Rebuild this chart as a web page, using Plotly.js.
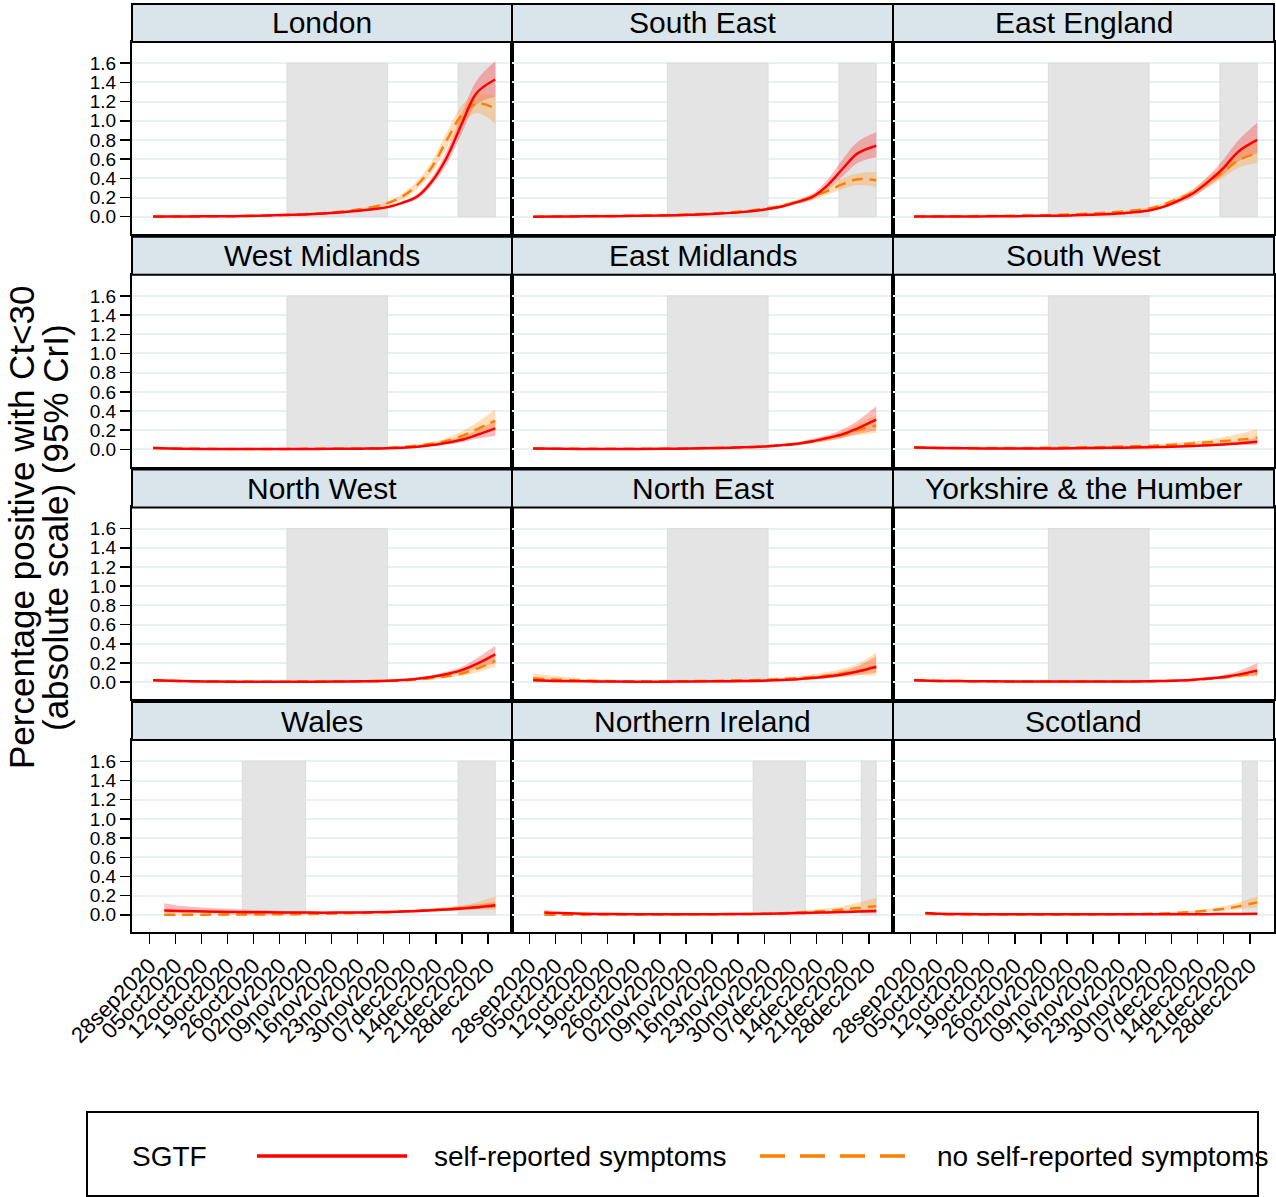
<!DOCTYPE html>
<html>
<head>
<meta charset="utf-8">
<script src="https://cdn.plot.ly/plotly-3.0.1.min.js"></script>
<style>html,body{margin:0;padding:0;background:#fff;}#chart{width:1276px;height:1197px;}</style>
</head>
<body>
<div id="chart"></div>
<script>
// ---------------- DATA ----------------
const regions = ['London','South East','East England','West Midlands','East Midlands','South West','North West','North East','Yorkshire & the Humber','Wales','Northern Ireland','Scotland'];

const datesEngland = ['2020-09-29','2020-10-06','2020-10-13','2020-10-20','2020-10-27','2020-11-03','2020-11-10','2020-11-17','2020-11-24','2020-12-01','2020-12-05','2020-12-09','2020-12-13','2020-12-17','2020-12-21','2020-12-25','2020-12-30'];
const datesNations = ['2020-10-02','2020-10-06','2020-10-13','2020-10-20','2020-10-27','2020-11-03','2020-11-10','2020-11-17','2020-11-24','2020-12-01','2020-12-05','2020-12-09','2020-12-13','2020-12-17','2020-12-21','2020-12-25','2020-12-30'];

const xTickVals = ['2020-09-28','2020-10-05','2020-10-12','2020-10-19','2020-10-26','2020-11-02','2020-11-09','2020-11-16','2020-11-23','2020-11-30','2020-12-07','2020-12-14','2020-12-21','2020-12-28'];
const xTickText = ['28sep2020','05oct2020','12oct2020','19oct2020','26oct2020','02nov2020','09nov2020','16nov2020','23nov2020','30nov2020','07dec2020','14dec2020','21dec2020','28dec2020'];
const yTickVals = [0,0.2,0.4,0.6,0.8,1.0,1.2,1.4,1.6];
const yTickText = ['0.0','0.2','0.4','0.6','0.8','1.0','1.2','1.4','1.6'];

// self-reported symptoms (sym) and no self-reported symptoms (asym), with 95% CrI
const London_sym    = [0.002,0.003,0.004,0.006,0.011,0.018,0.027,0.042,0.065,0.10,0.145,0.21,0.37,0.62,0.97,1.29,1.43];
const London_sym_lo = [0.0,0.001,0.002,0.004,0.008,0.014,0.022,0.036,0.057,0.09,0.13,0.185,0.33,0.55,0.87,1.17,1.25];
const London_sym_hi = [0.006,0.006,0.007,0.009,0.014,0.022,0.032,0.048,0.074,0.11,0.16,0.235,0.41,0.69,1.07,1.42,1.62];
const London_asym    = [0.0,0.002,0.003,0.005,0.01,0.017,0.028,0.048,0.08,0.14,0.21,0.33,0.52,0.80,1.06,1.18,1.13];
const London_asym_lo = [0.0,0.0,0.001,0.003,0.007,0.013,0.022,0.04,0.068,0.12,0.18,0.29,0.46,0.72,0.96,1.08,0.97];
const London_asym_hi = [0.004,0.005,0.006,0.008,0.013,0.021,0.034,0.056,0.092,0.16,0.24,0.37,0.58,0.88,1.16,1.28,1.25];

const SouthEast_sym    = [0.0,0.002,0.004,0.006,0.009,0.013,0.02,0.03,0.048,0.08,0.11,0.155,0.21,0.33,0.50,0.66,0.74];
const SouthEast_sym_lo = [0.0,0.0,0.002,0.004,0.007,0.01,0.016,0.025,0.041,0.07,0.097,0.135,0.18,0.28,0.42,0.56,0.62];
const SouthEast_sym_hi = [0.008,0.006,0.007,0.009,0.012,0.017,0.025,0.036,0.056,0.09,0.125,0.175,0.24,0.39,0.60,0.78,0.88];
const SouthEast_asym    = [0.0,0.003,0.005,0.008,0.011,0.016,0.024,0.036,0.056,0.09,0.12,0.16,0.21,0.27,0.34,0.39,0.38];
const SouthEast_asym_lo = [0.0,0.0,0.002,0.005,0.008,0.012,0.019,0.03,0.048,0.078,0.105,0.14,0.18,0.23,0.29,0.33,0.31];
const SouthEast_asym_hi = [0.008,0.007,0.008,0.011,0.015,0.021,0.03,0.043,0.065,0.10,0.135,0.18,0.24,0.31,0.40,0.45,0.47];

const EastEngland_sym    = [0.002,0.002,0.003,0.004,0.006,0.009,0.014,0.022,0.037,0.065,0.105,0.17,0.25,0.37,0.51,0.68,0.80];
const EastEngland_sym_lo = [0.0,0.0,0.001,0.002,0.004,0.006,0.011,0.018,0.031,0.056,0.09,0.14,0.21,0.32,0.44,0.58,0.66];
const EastEngland_sym_hi = [0.006,0.005,0.005,0.006,0.008,0.012,0.018,0.027,0.044,0.075,0.12,0.195,0.29,0.43,0.60,0.80,0.98];
const EastEngland_asym    = [0.003,0.004,0.006,0.008,0.011,0.016,0.024,0.035,0.055,0.085,0.13,0.19,0.26,0.36,0.47,0.59,0.66];
const EastEngland_asym_lo = [0.0,0.001,0.003,0.005,0.008,0.012,0.019,0.029,0.046,0.073,0.11,0.165,0.22,0.31,0.41,0.51,0.56];
const EastEngland_asym_hi = [0.008,0.008,0.009,0.011,0.015,0.021,0.03,0.042,0.065,0.10,0.15,0.215,0.30,0.42,0.54,0.68,0.77];

const WestMidlands_sym    = [0.015,0.008,0.005,0.004,0.004,0.004,0.005,0.006,0.008,0.012,0.018,0.028,0.045,0.07,0.10,0.15,0.22];
const WestMidlands_sym_lo = [0.008,0.004,0.002,0.002,0.002,0.002,0.003,0.004,0.005,0.008,0.013,0.021,0.034,0.053,0.075,0.11,0.14];
const WestMidlands_sym_hi = [0.025,0.013,0.009,0.007,0.006,0.006,0.007,0.009,0.011,0.016,0.024,0.037,0.058,0.09,0.135,0.20,0.30];
const WestMidlands_asym    = [0.015,0.009,0.006,0.005,0.005,0.005,0.006,0.007,0.01,0.015,0.025,0.04,0.06,0.09,0.14,0.21,0.30];
const WestMidlands_asym_lo = [0.005,0.003,0.002,0.002,0.002,0.002,0.003,0.004,0.006,0.01,0.017,0.028,0.043,0.065,0.10,0.15,0.20];
const WestMidlands_asym_hi = [0.03,0.017,0.011,0.009,0.008,0.008,0.009,0.011,0.014,0.021,0.034,0.053,0.08,0.12,0.19,0.28,0.42];

const EastMidlands_sym    = [0.01,0.006,0.005,0.005,0.005,0.007,0.01,0.015,0.022,0.033,0.045,0.06,0.085,0.12,0.16,0.22,0.31];
const EastMidlands_sym_lo = [0.004,0.003,0.003,0.003,0.003,0.005,0.007,0.011,0.017,0.026,0.036,0.048,0.065,0.09,0.12,0.16,0.20];
const EastMidlands_sym_hi = [0.02,0.011,0.008,0.007,0.008,0.01,0.013,0.02,0.028,0.041,0.055,0.075,0.11,0.15,0.21,0.30,0.45];
const EastMidlands_asym    = [0.01,0.007,0.006,0.006,0.006,0.008,0.011,0.016,0.023,0.034,0.046,0.062,0.085,0.115,0.15,0.20,0.25];
const EastMidlands_asym_lo = [0.002,0.002,0.002,0.003,0.003,0.005,0.007,0.011,0.017,0.026,0.036,0.049,0.067,0.09,0.12,0.15,0.17];
const EastMidlands_asym_hi = [0.024,0.015,0.011,0.01,0.01,0.012,0.016,0.022,0.03,0.043,0.058,0.078,0.105,0.14,0.19,0.27,0.36];

const SouthWest_sym    = [0.02,0.015,0.012,0.01,0.01,0.01,0.012,0.015,0.018,0.022,0.026,0.03,0.036,0.043,0.052,0.063,0.08];
const SouthWest_sym_lo = [0.012,0.01,0.008,0.007,0.007,0.007,0.009,0.011,0.013,0.016,0.019,0.022,0.026,0.031,0.037,0.045,0.05];
const SouthWest_sym_hi = [0.03,0.022,0.017,0.014,0.014,0.014,0.016,0.02,0.024,0.029,0.034,0.04,0.048,0.057,0.07,0.086,0.12];
const SouthWest_asym    = [0.02,0.015,0.014,0.014,0.015,0.017,0.02,0.024,0.03,0.037,0.045,0.053,0.063,0.075,0.088,0.10,0.125];
const SouthWest_asym_lo = [0.008,0.007,0.007,0.008,0.009,0.01,0.013,0.016,0.02,0.025,0.03,0.036,0.043,0.051,0.06,0.07,0.075];
const SouthWest_asym_hi = [0.035,0.026,0.023,0.022,0.023,0.025,0.029,0.034,0.041,0.05,0.06,0.072,0.086,0.10,0.13,0.16,0.21];

const NorthWest_sym    = [0.02,0.012,0.007,0.005,0.004,0.004,0.005,0.006,0.009,0.014,0.022,0.035,0.055,0.085,0.125,0.19,0.29];
const NorthWest_sym_lo = [0.012,0.007,0.004,0.003,0.002,0.002,0.003,0.004,0.006,0.01,0.016,0.026,0.042,0.065,0.095,0.145,0.20];
const NorthWest_sym_hi = [0.03,0.018,0.011,0.008,0.006,0.006,0.007,0.009,0.012,0.019,0.029,0.045,0.07,0.11,0.16,0.25,0.38];
const NorthWest_asym    = [0.02,0.012,0.008,0.006,0.005,0.005,0.006,0.007,0.009,0.012,0.018,0.028,0.042,0.062,0.09,0.14,0.22];
const NorthWest_asym_lo = [0.008,0.005,0.003,0.003,0.002,0.002,0.003,0.004,0.005,0.008,0.012,0.019,0.03,0.045,0.066,0.10,0.16];
const NorthWest_asym_hi = [0.035,0.021,0.013,0.01,0.008,0.008,0.009,0.011,0.014,0.018,0.026,0.04,0.058,0.085,0.12,0.185,0.28];

const NorthEast_sym    = [0.02,0.012,0.008,0.006,0.005,0.005,0.006,0.008,0.011,0.016,0.022,0.03,0.042,0.058,0.08,0.11,0.16];
const NorthEast_sym_lo = [0.008,0.005,0.004,0.003,0.003,0.003,0.004,0.005,0.008,0.011,0.015,0.021,0.03,0.041,0.055,0.075,0.10];
const NorthEast_sym_hi = [0.035,0.021,0.014,0.01,0.008,0.008,0.009,0.012,0.016,0.023,0.032,0.043,0.06,0.083,0.115,0.165,0.27];
const NorthEast_asym    = [0.04,0.025,0.015,0.01,0.008,0.008,0.01,0.013,0.018,0.025,0.032,0.042,0.054,0.07,0.09,0.115,0.15];
const NorthEast_asym_lo = [0.0,0.0,0.002,0.003,0.003,0.003,0.004,0.006,0.009,0.013,0.018,0.025,0.033,0.043,0.055,0.068,0.07];
const NorthEast_asym_hi = [0.09,0.06,0.036,0.025,0.018,0.016,0.018,0.022,0.029,0.038,0.05,0.064,0.082,0.105,0.14,0.19,0.31];

const Yorkshire_sym    = [0.02,0.013,0.01,0.008,0.007,0.006,0.006,0.006,0.007,0.009,0.012,0.017,0.025,0.037,0.053,0.078,0.12];
const Yorkshire_sym_lo = [0.012,0.008,0.006,0.005,0.004,0.004,0.004,0.004,0.005,0.006,0.008,0.012,0.018,0.027,0.038,0.055,0.07];
const Yorkshire_sym_hi = [0.03,0.019,0.014,0.011,0.01,0.009,0.009,0.009,0.01,0.013,0.017,0.024,0.035,0.052,0.075,0.115,0.20];
const Yorkshire_asym    = [0.02,0.013,0.01,0.008,0.007,0.006,0.006,0.006,0.007,0.009,0.012,0.016,0.023,0.034,0.048,0.068,0.095];
const Yorkshire_asym_lo = [0.008,0.006,0.005,0.004,0.004,0.003,0.003,0.004,0.004,0.006,0.008,0.011,0.016,0.024,0.034,0.048,0.06];
const Yorkshire_asym_hi = [0.035,0.022,0.016,0.013,0.011,0.01,0.01,0.01,0.011,0.013,0.017,0.023,0.032,0.046,0.066,0.095,0.14];

const Wales_sym    = [0.045,0.04,0.035,0.03,0.027,0.024,0.023,0.023,0.025,0.03,0.035,0.04,0.048,0.056,0.066,0.078,0.10];
const Wales_sym_lo = [0.02,0.02,0.02,0.018,0.016,0.015,0.015,0.016,0.018,0.022,0.026,0.03,0.036,0.042,0.05,0.06,0.07];
const Wales_sym_hi = [0.12,0.095,0.075,0.06,0.05,0.04,0.035,0.033,0.035,0.04,0.046,0.053,0.063,0.075,0.09,0.11,0.135];
const Wales_asym    = [0.0,0.0,0.002,0.003,0.004,0.006,0.009,0.014,0.02,0.028,0.034,0.041,0.05,0.06,0.07,0.08,0.09];
const Wales_asym_lo = [0.0,0.0,0.0,0.0,0.0,0.001,0.003,0.006,0.011,0.017,0.022,0.027,0.033,0.04,0.046,0.052,0.05];
const Wales_asym_hi = [0.02,0.015,0.013,0.013,0.014,0.016,0.019,0.024,0.031,0.04,0.048,0.057,0.068,0.082,0.10,0.13,0.19];

const NorthernIreland_sym    = [0.025,0.018,0.012,0.008,0.006,0.006,0.006,0.007,0.009,0.012,0.015,0.018,0.021,0.025,0.029,0.034,0.04];
const NorthernIreland_sym_lo = [0.01,0.008,0.006,0.004,0.003,0.003,0.003,0.004,0.005,0.007,0.009,0.011,0.013,0.016,0.018,0.021,0.022];
const NorthernIreland_sym_hi = [0.05,0.033,0.022,0.015,0.011,0.01,0.01,0.011,0.014,0.018,0.022,0.026,0.031,0.036,0.043,0.05,0.06];
const NorthernIreland_asym    = [0.0,0.001,0.002,0.003,0.003,0.004,0.005,0.006,0.008,0.012,0.017,0.024,0.032,0.042,0.055,0.07,0.09];
const NorthernIreland_asym_lo = [0.0,0.0,0.0,0.0,0.001,0.001,0.002,0.003,0.004,0.006,0.009,0.013,0.018,0.024,0.03,0.036,0.04];
const NorthernIreland_asym_hi = [0.01,0.008,0.007,0.007,0.007,0.008,0.009,0.011,0.015,0.021,0.029,0.04,0.053,0.068,0.09,0.125,0.18];

const Scotland_sym    = [0.02,0.012,0.008,0.006,0.005,0.005,0.005,0.005,0.005,0.005,0.006,0.006,0.007,0.007,0.008,0.009,0.01];
const Scotland_sym_lo = [0.012,0.007,0.005,0.004,0.003,0.003,0.003,0.003,0.003,0.003,0.004,0.004,0.004,0.005,0.005,0.005,0.005];
const Scotland_sym_hi = [0.03,0.018,0.012,0.009,0.008,0.007,0.007,0.007,0.007,0.008,0.008,0.009,0.01,0.011,0.012,0.014,0.016];
const Scotland_asym    = [0.01,0.006,0.004,0.003,0.003,0.003,0.004,0.005,0.007,0.01,0.015,0.022,0.032,0.045,0.063,0.088,0.13];
const Scotland_asym_lo = [0.003,0.002,0.001,0.001,0.001,0.001,0.002,0.003,0.004,0.006,0.01,0.015,0.022,0.031,0.043,0.058,0.08];
const Scotland_asym_hi = [0.022,0.012,0.008,0.006,0.006,0.006,0.007,0.008,0.011,0.015,0.022,0.031,0.045,0.063,0.09,0.128,0.19];

// restriction periods (grey shading)
const lock_England1 = ['2020-11-04','2020-12-01'];
const lock_Tier4    = ['2020-12-20','2020-12-30'];
const lock_Wales1   = ['2020-10-23','2020-11-09'];
const lock_NI1      = ['2020-11-27','2020-12-11'];
const lock_Dec26    = ['2020-12-26','2020-12-30'];
const shadeTop = 1.6;

// ---------------- BUILD ----------------
const series = [
  [London_sym,London_sym_lo,London_sym_hi,London_asym,London_asym_lo,London_asym_hi],
  [SouthEast_sym,SouthEast_sym_lo,SouthEast_sym_hi,SouthEast_asym,SouthEast_asym_lo,SouthEast_asym_hi],
  [EastEngland_sym,EastEngland_sym_lo,EastEngland_sym_hi,EastEngland_asym,EastEngland_asym_lo,EastEngland_asym_hi],
  [WestMidlands_sym,WestMidlands_sym_lo,WestMidlands_sym_hi,WestMidlands_asym,WestMidlands_asym_lo,WestMidlands_asym_hi],
  [EastMidlands_sym,EastMidlands_sym_lo,EastMidlands_sym_hi,EastMidlands_asym,EastMidlands_asym_lo,EastMidlands_asym_hi],
  [SouthWest_sym,SouthWest_sym_lo,SouthWest_sym_hi,SouthWest_asym,SouthWest_asym_lo,SouthWest_asym_hi],
  [NorthWest_sym,NorthWest_sym_lo,NorthWest_sym_hi,NorthWest_asym,NorthWest_asym_lo,NorthWest_asym_hi],
  [NorthEast_sym,NorthEast_sym_lo,NorthEast_sym_hi,NorthEast_asym,NorthEast_asym_lo,NorthEast_asym_hi],
  [Yorkshire_sym,Yorkshire_sym_lo,Yorkshire_sym_hi,Yorkshire_asym,Yorkshire_asym_lo,Yorkshire_asym_hi],
  [Wales_sym,Wales_sym_lo,Wales_sym_hi,Wales_asym,Wales_asym_lo,Wales_asym_hi],
  [NorthernIreland_sym,NorthernIreland_sym_lo,NorthernIreland_sym_hi,NorthernIreland_asym,NorthernIreland_asym_lo,NorthernIreland_asym_hi],
  [Scotland_sym,Scotland_sym_lo,Scotland_sym_hi,Scotland_asym,Scotland_asym_lo,Scotland_asym_hi]
];
const regionDates = [datesEngland,datesEngland,datesEngland,datesEngland,datesEngland,datesEngland,datesEngland,datesEngland,datesEngland,datesNations,datesNations,datesNations];
const regionLocks = [
  [lock_England1,lock_Tier4],[lock_England1,lock_Tier4],[lock_England1,lock_Tier4],
  [lock_England1],[lock_England1],[lock_England1],
  [lock_England1],[lock_England1],[lock_England1],
  [lock_Wales1,lock_Tier4],[lock_NI1,lock_Dec26],[lock_Dec26]
];

const W = 1276, H = 1197;
const colL = [132, 512, 893], colR = [512, 893, 1274];
const rowPitch = 232.7;
const FONT = 'Liberation Sans, Arial, Helvetica, sans-serif';
const RED = '#ff0000', ORANGE = '#ff8000';
const RED_BAND = 'rgba(255,0,0,0.27)', ORANGE_BAND = 'rgba(255,145,20,0.30)';

const traces = [];
const shapes = [];
const annotations = [];
const layout = {
  width: W, height: H, margin: {l:0,r:0,t:0,b:0},
  paper_bgcolor: '#ffffff', plot_bgcolor: '#ffffff',
  showlegend: false, font: {family: FONT, color: '#000'}
};

for (let i = 0; i < 12; i++) {
  const r = Math.floor(i/3), c = i % 3;
  const n = i === 0 ? '' : String(i+1);
  const xa = 'x' + n, ya = 'y' + n;
  const top = 42 + r*rowPitch, bot = 234 + r*rowPitch;
  const isBottom = r === 3, isLeft = c === 0;

  layout['xaxis' + n] = {
    domain: [colL[c]/W, colR[c]/W], anchor: ya, type: 'date',
    range: ['2020-09-23 08:00', '2021-01-03 12:00'],
    showgrid: false, zeroline: false,
    showline: true, mirror: true, linecolor: '#000', linewidth: 2,
    ticks: isBottom ? 'outside' : '', ticklen: 10, tickwidth: 1.5, tickcolor: '#000',
    tickmode: 'array', tickvals: xTickVals, ticktext: xTickText,
    showticklabels: isBottom, tickangle: -45,
    tickfont: {family: FONT, size: 22, color: '#000'}
  };
  layout['yaxis' + n] = {
    domain: [1 - bot/H, 1 - top/H], anchor: xa,
    range: [-0.18, 1.821],
    showgrid: true, gridcolor: '#e8f0f2', gridwidth: 2, zeroline: false,
    showline: true, mirror: true, linecolor: '#000', linewidth: 2,
    ticks: isLeft ? 'outside' : '', ticklen: 10, tickwidth: 1.5, tickcolor: '#000',
    tickmode: 'array', tickvals: yTickVals, ticktext: yTickText,
    showticklabels: isLeft,
    tickfont: {family: FONT, size: 19, color: '#000'}
  };

  // grey shading of restriction periods
  regionLocks[i].forEach(p => {
    shapes.push({type: 'rect', xref: xa, yref: ya, x0: p[0], x1: p[1], y0: 0, y1: shadeTop,
      fillcolor: '#e4e4e4', line: {color: '#dcdcdc', width: 1}, layer: 'between'});
  });

  // header strip
  const hTop = 4 + r*rowPitch, hBot = 42 + r*rowPitch;
  shapes.push({type: 'rect', xref: 'paper', yref: 'paper',
    x0: colL[c]/W, x1: colR[c]/W, y0: 1 - hBot/H, y1: 1 - hTop/H,
    fillcolor: '#d9e5eb', line: {color: '#000', width: 2}, layer: 'above'});
  annotations.push({xref: 'paper', yref: 'paper', x: (colL[c]+colR[c])/2/W, y: 1 - (hTop+hBot)/2/H,
    text: regions[i], showarrow: false, xanchor: 'center', yanchor: 'middle',
    font: {family: FONT, size: 30, color: '#000'}});

  const d = regionDates[i];
  const s = series[i];
  const common = {xaxis: xa, yaxis: ya, hoverinfo: 'skip', mode: 'lines'};
  // bands
  traces.push(Object.assign({x: d, y: s[1], line: {width: 0, shape: 'spline'}}, common));
  traces.push(Object.assign({x: d, y: s[2], line: {width: 0, shape: 'spline'}, fill: 'tonexty', fillcolor: RED_BAND}, common));
  traces.push(Object.assign({x: d, y: s[4], line: {width: 0, shape: 'spline'}}, common));
  traces.push(Object.assign({x: d, y: s[5], line: {width: 0, shape: 'spline'}, fill: 'tonexty', fillcolor: ORANGE_BAND}, common));
  // lines
  traces.push(Object.assign({x: d, y: s[3], name: 'no self-reported symptoms', line: {color: ORANGE, width: 2.5, dash: '11px,7px', shape: 'spline'}}, common));
  traces.push(Object.assign({x: d, y: s[0], name: 'self-reported symptoms', line: {color: RED, width: 2.5, shape: 'spline'}}, common));
}

// y-axis title (two lines)
annotations.push({xref: 'paper', yref: 'paper', x: 21/W, y: 1 - 528/H, textangle: -90,
  text: 'Percentage positive with Ct<30', showarrow: false, xanchor: 'center', yanchor: 'middle',
  font: {family: FONT, size: 35, color: '#000'}});
annotations.push({xref: 'paper', yref: 'paper', x: 55/W, y: 1 - 528/H, textangle: -90,
  text: '(absolute scale) (95% CrI)', showarrow: false, xanchor: 'center', yanchor: 'middle',
  font: {family: FONT, size: 35, color: '#000'}});

// legend box
const legY = 1 - 1156/H;
shapes.push({type: 'rect', xref: 'paper', yref: 'paper', x0: 87/W, x1: 1258/W, y0: 1 - 1196/H, y1: 1 - 1112/H,
  fillcolor: 'rgba(0,0,0,0)', line: {color: '#000', width: 2}});
shapes.push({type: 'line', xref: 'paper', yref: 'paper', x0: 257/W, x1: 407/W, y0: legY, y1: legY,
  line: {color: RED, width: 3.5}});
shapes.push({type: 'line', xref: 'paper', yref: 'paper', x0: 760/W, x1: 905/W, y0: legY, y1: legY,
  line: {color: ORANGE, width: 3.5, dash: '25px,15px'}});
annotations.push({xref: 'paper', yref: 'paper', x: 130/W, y: legY, text: 'SGTF', showarrow: false,
  xanchor: 'left', yanchor: 'middle', font: {family: FONT, size: 28, color: '#000'}});
annotations.push({xref: 'paper', yref: 'paper', x: 432/W, y: legY, text: 'self-reported symptoms', showarrow: false,
  xanchor: 'left', yanchor: 'middle', font: {family: FONT, size: 28, color: '#000'}});
annotations.push({xref: 'paper', yref: 'paper', x: 935/W, y: legY, text: 'no self-reported symptoms', showarrow: false,
  xanchor: 'left', yanchor: 'middle', font: {family: FONT, size: 28, color: '#000'}});

layout.shapes = shapes;
layout.annotations = annotations;

Plotly.newPlot('chart', traces, layout, {staticPlot: true, displayModeBar: false});
</script>
</body>
</html>
